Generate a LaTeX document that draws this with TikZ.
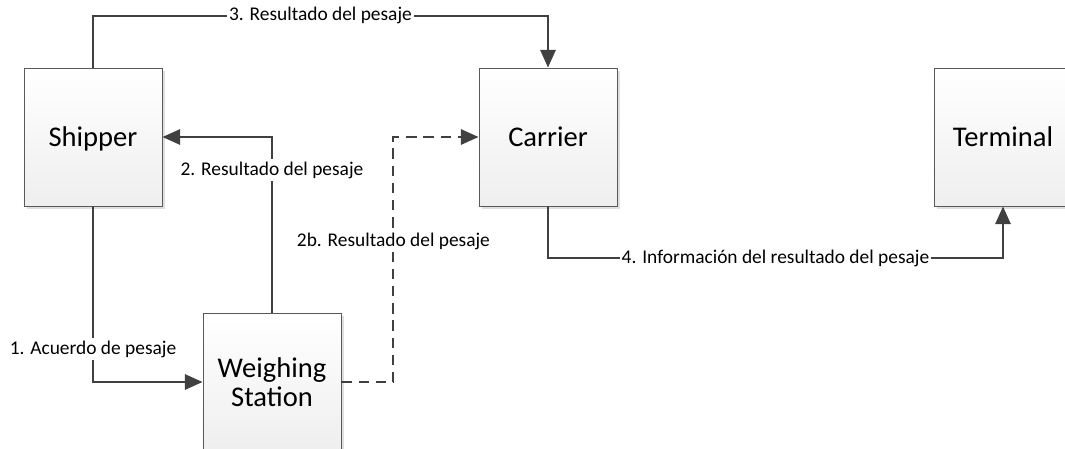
\documentclass[tikz,border=0pt]{standalone}
\usepackage{fontspec}
\setmainfont{Carlito}
\usetikzlibrary{arrows.meta,shadows}
\definecolor{linegray}{HTML}{404040}
\definecolor{boxline}{HTML}{595959}

\begin{document}
\begin{tikzpicture}[
    x=0.025cm, y=-0.025cm,
    party/.style={draw=boxline, line width=0.6pt, top color=white, bottom color=gray!13,
        minimum width=3.45cm, minimum height=3.45cm, align=center, inner sep=0pt,
        font=\fontsize{20.3}{20.6}\selectfont,
        drop shadow={shadow xshift=0.08cm, shadow yshift=-0.08cm, fill=gray!25, opacity=1}},
    arrow/.style={-{Triangle[length=0.44cm, width=0.38cm]}, draw=linegray, line width=1.5pt},
    lbl/.style={fill=white, inner sep=1.5pt, font=\fontsize{13.8}{16}\selectfont}
]
    \clip (0,0) rectangle (1065,448);

    % --- actores ---
    \node[party, text depth=0pt] (ship) at (93,137) {Shipper};
    \node[party] (carr) at (548,137) {Carrier};
    \node[party] (term) at (1003,137) {Terminal};
    \node[party] (ws) at (272,382) {Weighing\\Station};

    % --- flujos del pesaje ---
    \draw[arrow] (ship.south) |- node[lbl, pos=0.406] {1. Acuerdo de pesaje} (ws.west);
    \draw[arrow] (ws.north) |- node[lbl, pos=0.406] {2. Resultado del pesaje} (ship.east);
    \draw[arrow, dash pattern=on 0.26cm off 0.17cm] (ws.east) -- ++(52,0)
        |- node[lbl, pos=0.286] {2b. Resultado del pesaje} (carr.west);
    \draw[arrow] (ship.north) -- ++(0,-52) -| node[lbl, pos=0.25] {3. Resultado del pesaje} (carr.north);
    \draw[arrow] (carr.south) -- ++(0,52) -| node[lbl, pos=0.25] {4. Información del resultado del pesaje} (term.south);

\end{tikzpicture}
\end{document}
